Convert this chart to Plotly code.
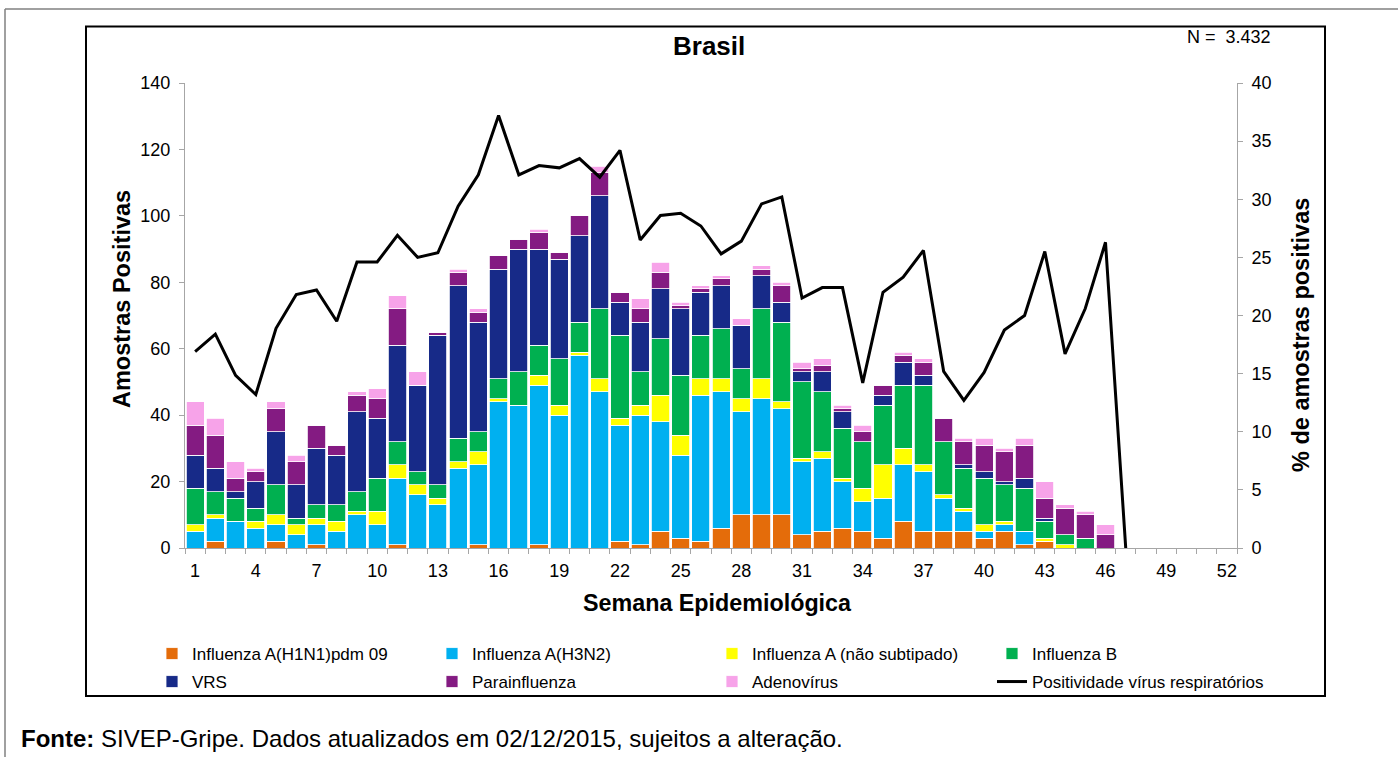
import plotly.graph_objects as go

weeks = list(range(1, 53))

h1n1 = [0, 2, 0, 0, 2, 0, 1, 0, 0, 0, 1, 0, 0, 0, 1, 0, 0, 1, 0, 0, 0, 2, 1, 5, 3, 2, 6, 10, 10, 10,
        4, 5, 6, 5, 3, 8, 5, 5, 5, 3, 5, 1, 2, 0, 0, 0]
h3n2 = [5, 7, 8, 6, 5, 4, 6, 5, 10, 7, 20, 16, 13, 24, 24, 44, 43, 48, 40, 58, 47, 35, 39, 33, 25, 44, 41, 31, 35, 32,
        22, 22, 14, 9, 12, 17, 18, 10, 6, 2, 2, 4, 0, 0, 0, 0]
flu_a_ns = [2, 1, 0, 2, 3, 3, 2, 3, 1, 4, 4, 3, 2, 2, 4, 1, 0, 3, 3, 1, 4, 2, 3, 8, 6, 5, 4, 4, 6, 2,
            1, 2, 1, 4, 10, 5, 2, 1, 1, 2, 1, 0, 1, 1, 0, 0]
flu_b = [11, 7, 7, 4, 9, 2, 4, 5, 6, 10, 7, 4, 4, 7, 6, 6, 10, 9, 14, 9, 21, 25, 10, 17, 18, 13, 15, 9, 21, 24,
         23, 18, 15, 14, 18, 19, 24, 16, 12, 14, 11, 13, 5, 3, 3, 0]
vrs = [10, 7, 2, 8, 16, 10, 17, 15, 24, 18, 29, 26, 45, 46, 33, 33, 37, 29, 30, 26, 34, 10, 15, 15, 20, 13, 13, 13, 10, 6,
       3, 6, 5, 0, 3, 7, 3, 0, 1, 2, 1, 3, 1, 0, 0, 0]
parainfluenza = [9, 10, 4, 3, 7, 7, 7, 3, 5, 6, 11, 0, 1, 4, 3, 4, 3, 5, 2, 6, 7, 3, 4, 5, 1, 1, 2, 0, 2, 5,
                 1, 2, 1, 3, 3, 2, 4, 7, 7, 8, 9, 10, 6, 8, 7, 4]
adenovirus = [7, 5, 5, 1, 2, 2, 0, 0, 1, 3, 4, 4, 0, 1, 1, 0, 0, 1, 0, 0, 2, 0, 3, 3, 1, 1, 1, 2, 1, 1,
              2, 2, 1, 2, 0, 1, 1, 0, 1, 2, 1, 2, 5, 1, 1, 3]
positividade = [16.9, 18.4, 14.85, 13.2, 18.9, 21.8, 22.2, 19.5, 24.6, 24.6, 26.9, 25.0, 25.4, 29.4, 32.1,
                37.2, 32.1, 32.9, 32.7, 33.5, 31.9, 34.2, 26.5, 28.6, 28.8, 27.7, 25.3, 26.4, 29.6, 30.2,
                21.5, 22.4, 22.4, 14.2, 22.0, 23.3, 25.6, 15.2, 12.7, 15.1, 18.75, 20.0, 25.5, 16.7, 20.6,
                26.3, 0.0]

# (name, values, colour, legend row)
series = [
    ("Influenza A(H1N1)pdm 09", h1n1, "#E46C0A", "legend"),
    ("Influenza A(H3N2)", h3n2, "#00B0F0", "legend"),
    ("Influenza A (não subtipado)", flu_a_ns, "#FFFF00", "legend"),
    ("Influenza B", flu_b, "#00B050", "legend"),
    ("VRS", vrs, "#172A88", "legend2"),
    ("Parainfluenza", parainfluenza, "#841B82", "legend2"),
    ("Adenovírus", adenovirus, "#F7A3E9", "legend2"),
]

x_tick_vals = list(range(1, 53, 3))
y_left_ticks = list(range(0, 141, 20))
y_right_ticks = list(range(0, 41, 5))

FONT = "Liberation Sans, Arial, sans-serif"
AXIS_GRAY = "#A6A6A6"

fig = go.Figure()
for name, vals, color, leg in series:
    padded = vals + [0] * (len(weeks) - len(vals))
    fig.add_trace(go.Bar(
        x=weeks, y=padded, name=name, legend=leg,
        marker=dict(color=color, line=dict(color="white", width=0.8)),
    ))

fig.add_trace(go.Scatter(
    x=weeks[:len(positividade)], y=positividade, name="Positividade vírus respiratórios",
    mode="lines", line=dict(color="black", width=3), yaxis="y2", legend="legend2",
))

W, H = 1398, 757
L, R, T, B = 185, 1237, 83, 548
pw, ph = R - L, B - T


def px(xp):
    return (xp - L) / pw


def py(yp):
    return (B - yp) / ph


legend_common = dict(
    orientation="h", x=px(152), xanchor="left", yanchor="middle",
    entrywidth=235, entrywidthmode="pixels", font=dict(size=17),
    bgcolor="rgba(0,0,0,0)", traceorder="normal",
)

fig.update_layout(
    width=W, height=H,
    margin=dict(l=L, r=W - R, t=T, b=H - B, autoexpand=False),
    paper_bgcolor="white", plot_bgcolor="white",
    barmode="stack", bargap=0.1,
    font=dict(family=FONT, color="black", size=18),
    xaxis=dict(
        range=[0.5, 52.5], tickvals=x_tick_vals, ticktext=[str(v) for v in x_tick_vals],
        ticks="", showline=True, linecolor=AXIS_GRAY, linewidth=1, showgrid=False, zeroline=False,
        tickfont=dict(size=18), ticklabelstandoff=6,
        minor=dict(tickvals=[v + 0.5 for v in range(0, 53)], ticks="outside", ticklen=5,
                   tickcolor=AXIS_GRAY, showgrid=False),
    ),
    yaxis=dict(
        range=[0, 140], tickvals=y_left_ticks, ticks="outside", ticklen=5, tickcolor=AXIS_GRAY,
        showline=True, linecolor=AXIS_GRAY, linewidth=1, showgrid=False, zeroline=False,
        tickfont=dict(size=18), ticklabelstandoff=5,
    ),
    yaxis2=dict(
        range=[0, 40], tickvals=y_right_ticks, overlaying="y", side="right",
        ticks="outside", ticklen=5, tickcolor=AXIS_GRAY,
        showline=True, linecolor=AXIS_GRAY, linewidth=1, showgrid=False, zeroline=False,
        tickfont=dict(size=18), ticklabelstandoff=5,
    ),
    legend=dict(y=py(654), **legend_common),
    legend2=dict(y=py(682), **legend_common),
    showlegend=True,
)

# axis titles (placed where the original puts them)
fig.add_annotation(text="<b>Semana Epidemiológica</b>", xref="paper", yref="paper", x=px(717.5), y=py(603),
                   xanchor="center", yanchor="middle", showarrow=False, font=dict(size=23.3))
fig.add_annotation(text="<b>Amostras Positivas</b>", xref="paper", yref="paper", x=px(122), y=py(299),
                   xanchor="center", yanchor="middle", textangle=-90, showarrow=False,
                   font=dict(size=23.5))
fig.add_annotation(text="<b>% de amostras positivas</b>", xref="paper", yref="paper", x=px(1301), y=py(335),
                   xanchor="center", yanchor="middle", textangle=-90, showarrow=False,
                   font=dict(size=23.5))

fig.add_annotation(text="<b>Brasil</b>", xref="paper", yref="paper", x=px(709), y=py(46),
                   xanchor="center", yanchor="middle", showarrow=False, font=dict(size=26))
fig.add_annotation(text="N =  3.432", xref="paper", yref="paper", x=px(1185), y=py(37),
                   xanchor="left", yanchor="middle", showarrow=False, font=dict(size=18))
fig.add_annotation(
    text="<b>Fonte:</b> SIVEP-Gripe. Dados atualizados em 02/12/2015, sujeitos a alteração.",
    xref="paper", yref="paper", x=px(19), y=py(738), xanchor="left", yanchor="middle",
    showarrow=False, font=dict(size=24))

# chart frame and page rules
fig.add_shape(type="rect", xref="paper", yref="paper", x0=px(86), x1=px(1325), y0=py(696), y1=py(26.5),
              line=dict(color="black", width=2), fillcolor="rgba(0,0,0,0)", layer="below")
fig.add_shape(type="line", xref="paper", yref="paper", x0=px(5), x1=px(1398), y0=py(9), y1=py(9),
              line=dict(color="#808080", width=1.5))
fig.add_shape(type="line", xref="paper", yref="paper", x0=px(5), x1=px(5), y0=py(9), y1=py(757),
              line=dict(color="#808080", width=1.5))

fig.write_html("out.html", config={"displayModeBar": False},
               post_script="document.body.style.margin='0';document.body.style.overflow='hidden';")
